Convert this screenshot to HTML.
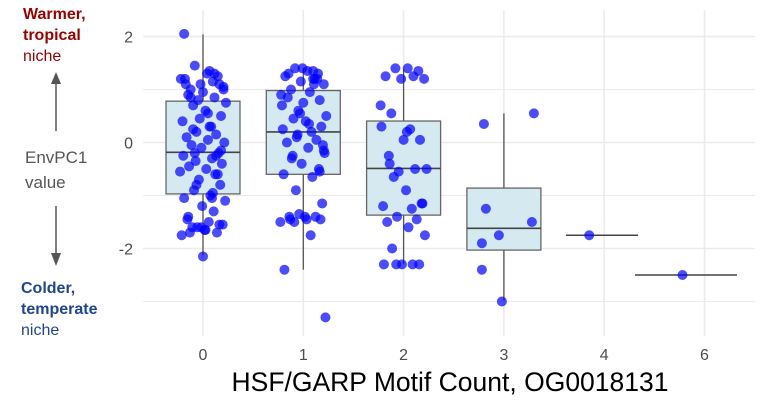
<!DOCTYPE html>
<html><head><meta charset="utf-8"><style>
body{margin:0;background:#fff;width:764px;height:408px;overflow:hidden;font-family:"Liberation Sans",sans-serif}
</style></head><body>
<svg id="chart" width="764" height="408" xmlns="http://www.w3.org/2000/svg" font-family="Liberation Sans, sans-serif">
<g id="grid"></g>
<g id="boxes"></g>
<g id="pts"></g>
<g id="axes"></g>
<g>
<text x="23" y="19" font-size="16" font-weight="bold" fill="#990000">Warmer,</text>
<text x="23" y="40" font-size="16" font-weight="bold" fill="#990000">tropical</text>
<text x="23" y="61" font-size="16" fill="#990000">niche</text>
<line x1="56" y1="131" x2="56" y2="82" stroke="#555" stroke-width="1.5"/>
<polygon points="51,84 61,84 56,72" fill="#555"/>
<text x="25" y="163" font-size="17" fill="#555">EnvPC1</text>
<text x="25" y="188" font-size="17" fill="#555">value</text>
<line x1="56" y1="206" x2="56" y2="255" stroke="#555" stroke-width="1.5"/>
<polygon points="51,253 61,253 56,266" fill="#555"/>
<text x="21" y="293" font-size="16" font-weight="bold" fill="#1f4591">Colder,</text>
<text x="21" y="314" font-size="16" font-weight="bold" fill="#1f4591">temperate</text>
<text x="21" y="335" font-size="16" fill="#1f4591">niche</text>
</g>
<text x="450" y="391" font-size="26.5" text-anchor="middle" fill="#000">HSF/GARP Motif Count, OG0018131</text>
</svg>
<script>
const categories=["0","1","2","3","4","6"];
const boxQ1=[-0.97,-0.6,-1.37,-2.03,-1.75,-2.5];
const boxMed=[-0.185,0.2,-0.49,-1.62,-1.75,-2.5];
const boxQ3=[0.78,0.98,0.405,-0.86,-1.75,-2.5];
const whiskLo=[-2.12,-2.4,-2.29,-2.98,-1.75,-2.5];
const whiskHi=[2.04,1.4,1.38,0.55,-1.75,-2.5];
const yTicks=[-2,0,2];
const g0=[1.45,1.3,1.25,1.2,1.15,1.1,1.05,1.0,1.35,1.2,1.1,0.95,0.9,0.85,0.8,0.75,0.7,0.6,0.5,0.4,0.3,0.2,0.15,0.1,0.05,0,-0.05,-0.1,-0.2,-0.25,-0.3,-0.35,-0.4,-0.45,-0.5,-0.55,-0.6,-0.7,-0.8,-0.9,-1.0,-1.05,-1.1,-1.2,-1.3,-1.45,-1.5,-1.55,-1.6,-1.65,-1.7,-1.75,-1.6,-1.55,-1.7,-0.95,0.45,1.0,1.1,0.3,-0.2,-0.6,-1.6,-2.15,2.05,1.3,0.85,0.55,-0.15,-0.8,-1.05,-1.4,-1.65,0.25,-0.25];
const g1=[1.4,1.35,1.3,1.25,1.2,1.15,1.1,1.0,0.95,0.9,0.8,0.75,1.3,1.2,0.6,0.5,0.45,0.4,0.3,0.25,0.2,0.1,0.05,0,-0.1,-0.2,-0.3,-0.4,-0.5,-0.6,-0.65,-0.9,-1.15,-1.4,-1.45,-1.5,-1.4,-1.35,-1.45,-1.5,-1.75,-2.4,-3.3,1.4,1.1,0.85,0.35,-0.05,-0.25,-1.4,1.2,0.7,0.15,-0.55,-1.45,1.35,0.55,-0.15];
const g2=[1.4,1.4,1.35,1.25,1.25,1.2,1.2,0.55,0.25,0.3,0.05,0.05,-0.25,-0.5,-0.55,-0.5,-0.65,-0.9,-1.15,-1.2,-1.25,-1.4,-1.45,-1.5,-1.6,-1.75,-2.0,-2.3,-2.3,-2.3,-2.3,-2.3,-1.15,-0.4,0.2,0.7];
const g3=[0.35,0.55,-1.25,-1.5,-1.75,-1.9,-2.4,-3.0];
const g4=[-1.75];
const g6=[-2.5];
const groups=[g0,g1,g2,g3,g4,g6];
const jitter=[-10,5,18,-22,12,-3,25,-15,8,-27,20,0,-18,14,-6,28,-12,3,22,-25,10,-8,16,-20,6,26,-14,-2,19,-24,11,-9,23,-17,4,-28,15,-5,21,-11,9,-23,27,-1,13,-19,7,24,-13,2,17,-26,-7,20,-16,12,-4,25,-21,8,-10,18,-2,0,-23,14,-15,6,22,-8,11,-18,3,-12,16,-6,24,-20,9,-14];
const g3j=[-20,30,-18,28,-5,-22,-22,-2];
const singleJ=[-15,-22];
const svgNS="http://www.w3.org/2000/svg";
const xPos=i=>203+i*100.3;
const yPos=v=>142.5-v*53;
function mk(tag,attrs,parent){const e=document.createElementNS(svgNS,tag);for(const k in attrs)e.setAttribute(k,attrs[k]);parent.appendChild(e);return e;}
const grid=document.getElementById('grid'),boxes=document.getElementById('boxes'),pts=document.getElementById('pts'),axes=document.getElementById('axes');
for(let v=-3;v<=2;v++){
  const l=mk('line',{x1:143,x2:755,y1:yPos(v),y2:yPos(v),stroke:'#ebebeb','stroke-width':v%2===0?1.6:1},grid);
  
  
}
categories.forEach((c,i)=>{
  const l=mk('line',{x1:xPos(i),x2:xPos(i),y1:10,y2:336,stroke:'#ebebeb','stroke-width':1.6},grid);
  
  
  const t=mk('text',{x:xPos(i),y:360,'font-size':16,'text-anchor':'middle',fill:'#4d4d4d'},axes);
  t.textContent=c;
  
  
});
yTicks.forEach(v=>{
  const t=mk('text',{x:133,y:yPos(v)+6,'font-size':16,'text-anchor':'end',fill:'#4d4d4d'},axes);
  t.textContent=v;
  
  
});
categories.forEach((c,i)=>{
  let x=xPos(i),hw=37;
  if(i===5){x=686;hw=51;}
  if(i===4){x=602;hw=36;}
  const wl=mk('line',{x1:x,x2:x,y1:yPos(whiskHi[i]),y2:yPos(whiskLo[i]),stroke:'#555','stroke-width':1.3},boxes);
  
  
  const r=mk('rect',{x:x-hw,y:yPos(boxQ3[i]),width:hw*2,height:Math.max(0,yPos(boxQ1[i])-yPos(boxQ3[i])),fill:'#d5e9f0',stroke:'#666','stroke-width':1.3},boxes);
  
  
  const m=mk('line',{x1:x-hw,x2:x+hw,y1:yPos(boxMed[i]),y2:yPos(boxMed[i]),stroke:'#444','stroke-width':1.6},boxes);
  
  
});
groups.forEach((g,i)=>{
  g.forEach((v,k)=>{
    let j=jitter[k%jitter.length]*0.82;
    if(i===3)j=g3j[k%g3j.length];
    if(i>=4)j=singleJ[i-4];
    const p=mk('circle',{cx:xPos(i)+j,cy:yPos(v),r:5,fill:'rgba(0,0,255,0.7)'},pts);
    
    
  });
});
</script>
</body></html>
